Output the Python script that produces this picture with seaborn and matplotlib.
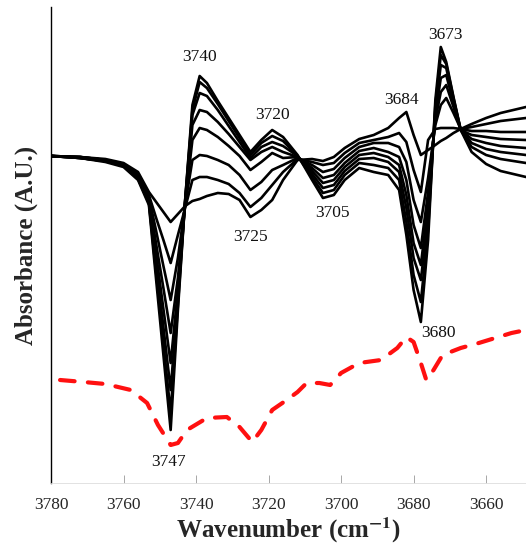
import pandas as pd
import numpy as np
import matplotlib
matplotlib.use("Agg")
import matplotlib.pyplot as plt
import seaborn as sns

# wavenumber grid (cm-1) for the black difference spectra
wavenumber = [3780, 3772, 3765, 3760, 3756, 3753, 3751, 3749, 3747, 3745,
              3743, 3741, 3739, 3737, 3734, 3731, 3728, 3725, 3722, 3719,
              3716, 3712, 3708, 3705, 3702, 3699, 3695, 3691, 3687, 3684,
              3682, 3680, 3678, 3676, 3674, 3672.5, 3671, 3669, 3667, 3664,
              3660, 3656, 3649]

# absorbance in mA.U. (smallest change first)
spec_1 = [0, -1, -3, -7, -16, -36, -46, -56, -66, -58, -50, -45, -43, -40, -37,
          -38, -44, -61, -54, -44, -24, -4, -3, -5, -1, 8, 17, 21, 28, 38, 44,
          21, 1, 6, 11, 15, 18, 23, 27, 32, 38, 43, 49]
spec_2 = [0, -1, -4, -8, -18, -39, -62, -84, -107, -79, -52, -24, -21, -21, -24,
          -28, -37, -51, -42, -29, -16, -3, -6, -9, -7, 3, 13, 16, 19, 23, 14,
          -14, -36, 16, 27, 28, 28, 28, 27, 29, 32, 35, 38]
spec_3 = [0, -1, -4, -8, -19, -41, -75, -110, -144, -102, -49, -4, 1, 0, -4,
          -9, -19, -34, -26, -14, -9, -2, -9, -16, -13, -2, 9, 13, 13, 9, -6,
          -44, -66, -22, 31, 51, 58, 43, 27, 25, 25, 24, 24]
spec_4 = [0, -1, -4, -9, -20, -43, -88, -132, -177, -122, -47, 16, 28, 26, 19,
          10, 0, -14, -6, 3, -2, -1, -12, -22, -19, -7, 5, 8, 4, -1, -24, -69,
          -92, -36, 36, 64, 71, 49, 26, 21, 19, 17, 16]
spec_5 = [0, -2, -5, -9, -21, -44, -98, -153, -207, -134, -46, 31, 46, 44, 34,
          22, 9, -4, 4, 9, 4, -1, -15, -27, -24, -11, 1, 3, -1, -9, -39, -87,
          -109, -49, 41, 78, 81, 53, 26, 17, 13, 10, 8]
spec_6 = [0, -2, -5, -10, -22, -46, -109, -171, -234, -142, -45, 41, 63, 60, 46,
          30, 14, -2, 9, 14, 10, 0, -18, -32, -29, -15, -3, -2, -6, -16, -52,
          -102, -124, -62, 46, 91, 88, 56, 26, 13, 7, 4, 1]
spec_7 = [0, -2, -5, -10, -23, -47, -117, -187, -257, -149, -44, 46, 74, 68, 52,
          35, 18, 1, 13, 20, 15, 0, -21, -37, -34, -19, -7, -9, -12, -24, -66,
          -119, -146, -74, 51, 101, 92, 58, 26, 9, 1, -3, -7]
spec_8 = [0, -2, -6, -11, -24, -49, -124, -199, -274, -154, -44, 51, 80, 73, 55,
          38, 21, 4, 16, 26, 19, 1, -24, -42, -39, -24, -12, -16, -19, -34, -79,
          -134, -166, -84, 56, 109, 94, 59, 26, 4, -8, -15, -21]

# red dashed reference spectrum
red_wn = [3777.5, 3771, 3765, 3758, 3753.5, 3750.5, 3747, 3745, 3742.5, 3737,
          3731.5, 3728, 3724.5, 3722, 3719, 3715, 3712, 3709.5, 3706, 3703,
          3700, 3695, 3689, 3684.5, 3682, 3680, 3678, 3676.5, 3674.5, 3672,
          3667, 3662, 3653, 3649]
red_abs = [-224, -226, -228, -234, -247, -269, -289, -287, -274, -262, -261,
           -271, -286, -274, -254, -244, -236, -227, -227, -229, -217, -207,
           -204, -192, -181, -186, -207, -224, -214, -199, -192, -187, -177,
           -174]

# peak labels
peak_labels = ["3740", "3720", "3725", "3705", "3684", "3673", "3680", "3747"]
peak_x = [3739, 3719, 3725, 3702.5, 3683.2, 3671.3, 3673.2, 3747.7]
peak_y = [99, 41, -81, -57, 56, 121, -177, -306]

spectra = [spec_1, spec_2, spec_3, spec_4, spec_5, spec_6, spec_7, spec_8]
frames = []
for i, s in enumerate(spectra):
    frames.append(pd.DataFrame({"wn": wavenumber, "absorbance": s, "sample": i}))
df = pd.concat(frames, ignore_index=True)

sns.set_theme(style="white")
plt.rcParams['font.family'] = ['Liberation Serif', 'DejaVu Serif']
plt.rcParams['mathtext.fontset'] = 'stix'

fig = plt.figure(figsize=(5.26, 5.45), dpi=100)
ax = fig.add_axes([51 / 526, 62 / 545, 475 / 526, 476 / 545])

sns.lineplot(data=df, x="wn", y="absorbance", units="sample", estimator=None,
             color="black", linewidth=1.9, sort=False, ax=ax, legend=False,
             solid_joinstyle="round", solid_capstyle="round")
sns.lineplot(x=red_wn, y=red_abs, color="#ff1010", linewidth=3.0, sort=False,
             ax=ax, legend=False)
red_line = ax.lines[-1]
red_line.set_linestyle((0, (3.5, 3.2)))
red_line.set_dash_capstyle("round")
red_line.set_dash_joinstyle("round")

for lab, x, y in zip(peak_labels, peak_x, peak_y):
    ax.text(x, y, lab, ha="center", va="center", fontsize=12.5, color="#111111")

ax.set_xlim(3780, 3649)
ax.set_ylim(-327, 149)
ax.set_xticks([3780, 3760, 3740, 3720, 3700, 3680, 3660])
ax.set_yticks([])
ax.tick_params(axis="x", direction="in", length=6, width=0.6, color="#999999",
               labelsize=12.5, pad=10, bottom=True)

ax.set_xlabel(r"Wavenumber (cm$^{\mathbf{-1}}$)", fontsize=18, fontweight="bold",
              labelpad=2)
ax.set_ylabel("Absorbance (A.U.)", fontsize=18, fontweight="bold", labelpad=9)

for side in ["top", "right"]:
    ax.spines[side].set_visible(False)
ax.spines["left"].set_color("black")
ax.spines["left"].set_linewidth(1.0)
ax.spines["bottom"].set_color("#dddddd")
ax.spines["bottom"].set_linewidth(0.6)

fig.savefig("out.png", dpi=100)
